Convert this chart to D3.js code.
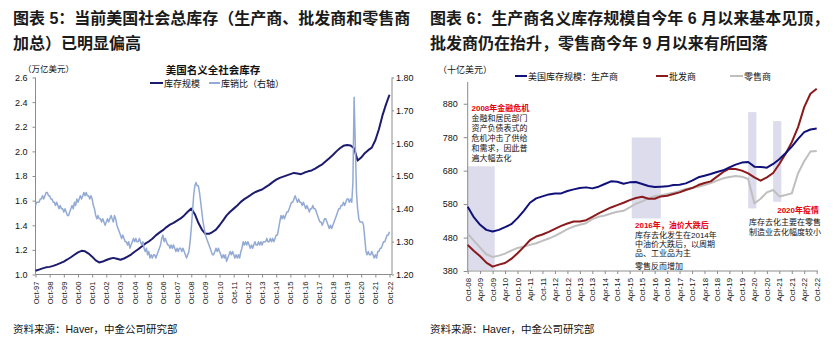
<!DOCTYPE html>
<html><head><meta charset="utf-8">
<script src="https://cdn.jsdelivr.net/npm/d3@7/dist/d3.min.js"></script>
<style>
body{margin:0;background:#fff;}
svg{display:block;font-family:"Liberation Sans","Noto Sans CJK SC",sans-serif;}
</style></head><body>
<svg id="c" width="835" height="345"></svg>
<script>
// ---------------- DATA ----------------
// Left chart: US total business inventories (trillion USD, quarterly from Oct-97) and inventory/sales ratio (monthly from Oct-97)
const leftStart = "1997-10";
const leftStock = [
1.030,1.040,1.050,1.058, 1.062,1.070,1.080,1.092, 1.105,1.122,1.140,1.160, 1.180,1.192,1.188,1.170,
1.145,1.115,1.098,1.105, 1.118,1.128,1.135,1.128, 1.120,1.130,1.145,1.162, 1.185,1.205,1.228,1.250,
1.268,1.290,1.318,1.340, 1.360,1.385,1.405,1.420, 1.438,1.455,1.480,1.510, 1.535,1.490,1.420,1.365,
1.330,1.330,1.345,1.365, 1.400,1.440,1.480,1.510, 1.535,1.560,1.590,1.612, 1.630,1.650,1.668,1.680,
1.690,1.710,1.728,1.750, 1.770,1.785,1.795,1.805, 1.815,1.825,1.820,1.815, 1.828,1.838,1.845,1.860,
1.878,1.895,1.920,1.945, 1.970,2.000,2.025,2.045, 2.052,2.048,2.025,1.925, 1.950,1.985,2.010,2.030,
2.090,2.180,2.290,2.380, 2.460];
const leftRatio = [
1.41,1.42,1.42,
1.42,1.43,1.43,1.44,1.43,1.44,1.45,1.45,1.44,1.44,1.43,1.43,
1.42,1.42,1.41,1.42,1.41,1.40,1.41,1.40,1.40,1.39,1.40,1.39,
1.38,1.38,1.39,1.40,1.41,1.40,1.42,1.41,1.43,1.42,1.43,1.44,
1.43,1.44,1.45,1.44,1.45,1.44,1.44,1.43,1.44,1.43,1.41,1.40,
1.38,1.37,1.38,1.37,1.37,1.36,1.37,1.36,1.35,1.36,1.37,1.36,
1.37,1.38,1.37,1.36,1.38,1.37,1.35,1.34,1.33,1.32,1.31,1.32,
1.31,1.30,1.30,1.29,1.30,1.28,1.29,1.30,1.31,1.30,1.31,1.30,
1.30,1.31,1.30,1.29,1.30,1.28,1.27,1.28,1.26,1.27,1.25,1.26,
1.25,1.26,1.26,1.25,1.26,1.27,1.28,1.29,1.31,1.32,1.30,1.31,
1.30,1.29,1.29,1.28,1.29,1.28,1.29,1.28,1.27,1.28,1.27,1.28,
1.28,1.27,1.28,1.27,1.26,1.25,1.26,1.27,1.30,1.34,1.39,1.44,
1.47,1.48,1.47,1.47,1.45,1.42,1.39,1.36,1.34,1.32,1.31,1.30,
1.29,1.28,1.27,1.26,1.26,1.27,1.28,1.27,1.28,1.27,1.26,1.25,
1.26,1.25,1.26,1.24,1.25,1.26,1.27,1.26,1.27,1.26,1.25,1.26,
1.25,1.26,1.25,1.27,1.28,1.30,1.29,1.30,1.29,1.30,1.29,1.28,
1.29,1.28,1.29,1.30,1.29,1.29,1.30,1.29,1.30,1.29,1.30,1.30,
1.30,1.31,1.30,1.30,1.31,1.30,1.31,1.30,1.31,1.32,1.32,1.34,
1.36,1.38,1.37,1.38,1.37,1.38,1.39,1.39,1.40,1.41,1.42,1.42,
1.43,1.44,1.43,1.42,1.43,1.42,1.42,1.41,1.42,1.41,1.40,1.41,
1.40,1.39,1.40,1.40,1.41,1.40,1.40,1.39,1.38,1.37,1.36,1.36,
1.35,1.36,1.37,1.37,1.36,1.35,1.34,1.35,1.34,1.35,1.36,1.37,
1.38,1.39,1.40,1.40,1.41,1.41,1.42,1.41,1.42,1.43,1.43,1.42,
1.43,1.42,1.48,1.74,1.60,1.45,1.40,1.37,1.36,1.36,1.36,1.35,
1.31,1.27,1.26,1.27,1.26,1.26,1.27,1.26,1.25,1.26,1.25,1.27,
1.27,1.28,1.28,1.29,1.30,1.30,1.31,1.32,1.32,1.33];
const leftYTicks = [1.0,1.2,1.4,1.6,1.8,2.0,2.2,2.4,2.6];
const leftY2Ticks = [1.20,1.30,1.40,1.50,1.60,1.70,1.80];
const leftXLabels = ["Oct-97","Oct-98","Oct-99","Oct-00","Oct-01","Oct-02","Oct-03","Oct-04","Oct-05","Oct-06","Oct-07","Oct-08","Oct-09","Oct-10","Oct-11","Oct-12","Oct-13","Oct-14","Oct-15","Oct-16","Oct-17","Oct-18","Oct-19","Oct-20","Oct-21","Oct-22"];

// Right chart: nominal inventories by sector (billion USD, quarterly from Oct-08)
const rightStart = "2008-10";
const manufacturers = [572,540,518,503, 498,503,511,520, 538,560,584,597, 603,609,612,612, 619,624,628,630,
 627,632,640,648, 647,641,645,646, 640,634,631,632, 633,637,638,642, 650,660,665,670, 676,681,690,698,
 704,706,692,691, 689,700,714,732, 752,775,795,803, 806];
const wholesalers = [458,440,424,405, 393,399,404,416, 433,452,472,483, 489,497,506,515, 522,528,528,532,
 542,552,561,570, 577,584,592,598, 602,596,596,603, 605,610,615,622, 628,637,643,648, 662,676,686,685,
 680,672,660,650, 660,673,700,730, 765,810,870,910, 925];
const retailers = [492,470,450,430, 422,426,432,441, 449,453,458,463, 470,477,485,495, 505,513,518,523,
 535,542,546,552, 557,560,570,581, 588,597,604,606, 610,614,619,625, 628,632,637,643, 650,657,661,664,
 662,655,582,596, 615,622,603,607, 612,672,708,737, 739];
const rightYTicks = [380,480,580,680,780,880];
const rightXLabels = ["Oct-08","Apr-09","Oct-09","Apr-10","Oct-10","Apr-11","Oct-11","Apr-12","Oct-12","Apr-13","Oct-13","Apr-14","Oct-14","Apr-15","Oct-15","Apr-16","Oct-16","Apr-17","Oct-17","Apr-18","Oct-18","Apr-19","Oct-19","Apr-20","Oct-20","Apr-21","Oct-21","Apr-22","Oct-22"];
const bandFrom = ["2008-10","2015-05","2020-01","2021-01"];
const bandTo   = ["2009-11","2016-07","2020-05","2021-05"];
const bandTop  = [693,779,855,828];
const bandBottom = [383,537,567,587];

// ---------------- DRAW ----------------
const svg = d3.select("#c");
const pm = d3.timeParse("%Y-%m");
const pl = d3.timeParse("%b-%y");
const CJK = '"Noto Sans CJK SC","Liberation Sans",sans-serif';
const NUM = '"Liberation Sans",Arial,sans-serif';
const MIX = '"Liberation Sans","Noto Sans CJK SC",sans-serif';

function txt(x,y,s,size,opt){
  opt = opt||{};
  return svg.append("text").attr("x",x).attr("y",y).text(s)
    .attr("font-size",size).attr("font-family",opt.ff||MIX)
    .attr("font-weight",opt.bold?"bold":"normal")
    .attr("fill",opt.fill||"#111")
    .attr("text-anchor",opt.anchor||"start");
}

// Titles
txt(13,24,"图表 5：当前美国社会总库存（生产商、批发商和零售商",16,{bold:true,fill:"#1a1a1a"});
txt(13,49,"加总）已明显偏高",16,{bold:true,fill:"#1a1a1a"});
txt(430,24,"图表 6：生产商名义库存规模自今年 6 月以来基本见顶，",16,{bold:true,fill:"#1a1a1a"});
txt(430,49,"批发商仍在抬升，零售商今年 9 月以来有所回落",16,{bold:true,fill:"#1a1a1a"});
txt(13,333,"资料来源：Haver，中金公司研究部",10.5,{});
txt(430,333,"资料来源：Haver，中金公司研究部",10.5,{});

function styleAxis(g){
  g.selectAll("path.domain").remove();
  g.selectAll(".tick line").attr("stroke","#8c8c8c");
  g.selectAll(".tick text").attr("font-family",NUM).attr("fill","#111");
}

// ---------- LEFT ----------
const L = {x0:35.5, x1:392, xe:389.5, y0:274.5, y1:77.5};
const xL = d3.scaleTime().domain([pm("1997-10"), pm("2022-10")]).range([L.x0, L.xe]);
const yL = d3.scaleLinear().domain([1.0,2.6]).range([L.y0, L.y1]);
const yL2 = d3.scaleLinear().domain([1.2,1.8]).range([L.y0, L.y1]);

svg.append("line").attr("x1",L.x0).attr("x2",L.x0).attr("y1",L.y1).attr("y2",L.y0).attr("stroke","#8c8c8c");
svg.append("line").attr("x1",L.x1).attr("x2",L.x1).attr("y1",L.y1).attr("y2",L.y0).attr("stroke","#8c8c8c");
svg.append("line").attr("x1",L.x0).attr("x2",L.x1).attr("y1",L.y0).attr("y2",L.y0).attr("stroke","#8c8c8c");

svg.append("g").attr("transform",`translate(${L.x0},0)`)
  .call(d3.axisLeft(yL).tickValues(leftYTicks).tickFormat(d3.format(".1f")).tickSize(3).tickPadding(5))
  .call(styleAxis).selectAll("text").attr("font-size",9);
svg.append("g").attr("transform",`translate(${L.x1},0)`)
  .call(d3.axisRight(yL2).tickValues(leftY2Ticks).tickFormat(d3.format(".2f")).tickSize(2).tickPadding(2))
  .call(styleAxis).selectAll("text").attr("font-size",9);
const gxl = svg.append("g").attr("transform",`translate(0,${L.y0})`)
  .call(d3.axisBottom(xL).tickValues(leftXLabels.map(pl)).tickFormat((d,i)=>leftXLabels[i]).tickSize(3))
  .call(styleAxis);
gxl.selectAll(".tick text").attr("font-size",7.6).attr("transform","rotate(-90)")
  .attr("text-anchor","end").attr("x",-7).attr("y",0).attr("dy","0.33em");

const lStock = leftStock.map((v,i)=>({d:d3.timeMonth.offset(pm(leftStart),3*i),v}));
const lRatio = leftRatio.map((v,i)=>({d:d3.timeMonth.offset(pm(leftStart),i),v}));
svg.append("path").datum(lStock).attr("fill","none").attr("stroke","#1d1b6e").attr("stroke-width",2)
  .attr("stroke-linejoin","round").attr("d",d3.line().x(p=>xL(p.d)).y(p=>yL(p.v)));
svg.append("path").datum(lRatio).attr("fill","none").attr("stroke","#93aad4").attr("stroke-width",1.5)
  .attr("stroke-linejoin","round").attr("d",d3.line().x(p=>xL(p.d)).y(p=>yL2(p.v)));

txt(23,71.5,"（万亿美元）",8.5,{ff:CJK});
txt(213,74,"美国名义全社会库存",10.5,{bold:true,anchor:"middle",ff:CJK});
svg.append("line").attr("x1",150).attr("x2",163).attr("y1",83).attr("y2",83).attr("stroke","#1d1b6e").attr("stroke-width",2);
txt(164,86.5,"库存规模",9,{ff:CJK});
svg.append("line").attr("x1",209).attr("x2",220).attr("y1",83).attr("y2",83).attr("stroke","#93aad4").attr("stroke-width",2);
txt(221,86.5,"库销比（右轴）",9,{ff:CJK});

// ---------- RIGHT ----------
const R = {x0:467.7, x1:817, y0:271, y1:82};
const xR = d3.scaleTime().domain([pm("2008-10"), pm("2022-10")]).range([R.x0, 816.7]);
const yR = d3.scaleLinear().domain([380,945]).range([R.y0, R.y1]);

// shaded periods
svg.append("g").selectAll("rect").data(bandFrom).join("rect")
  .attr("x",(d,i)=>xR(pm(d)))
  .attr("width",(d,i)=>xR(pm(bandTo[i]))-xR(pm(d)))
  .attr("y",(d,i)=>yR(bandTop[i]))
  .attr("height",(d,i)=>yR(bandBottom[i])-yR(bandTop[i]))
  .attr("fill","#dcdcec");

svg.append("line").attr("x1",R.x0).attr("x2",R.x0).attr("y1",R.y1).attr("y2",R.y0).attr("stroke","#8c8c8c");
svg.append("line").attr("x1",R.x0).attr("x2",R.x1+1).attr("y1",R.y0).attr("y2",R.y0).attr("stroke","#8c8c8c");
svg.append("g").attr("transform",`translate(${R.x0},0)`)
  .call(d3.axisLeft(yR).tickValues(rightYTicks).tickFormat(d3.format("d")).tickSize(4).tickPadding(6))
  .call(styleAxis).selectAll("text").attr("font-size",9);
const gxr = svg.append("g").attr("transform",`translate(0,${R.y0})`)
  .call(d3.axisBottom(xR).tickValues(rightXLabels.map(pl)).tickFormat((d,i)=>rightXLabels[i]).tickSize(3))
  .call(styleAxis);
gxr.selectAll(".tick text").attr("font-size",7.8).attr("transform","rotate(-90)")
  .attr("text-anchor","end").attr("x",-7).attr("y",0).attr("dy","0.33em");

const lineR = d3.line().x(p=>xR(p.d)).y(p=>yR(p.v));
const toPts = arr => arr.map((v,i)=>({d:d3.timeMonth.offset(pm(rightStart),3*i),v}));
[[retailers,"#bfbfbf"],[wholesalers,"#8a1a1c"],[manufacturers,"#10107a"]].forEach(([arr,c])=>{
  svg.append("path").datum(toPts(arr)).attr("fill","none").attr("stroke",c).attr("stroke-width",2)
    .attr("stroke-linejoin","round").attr("d",lineR);
});

txt(438,72.5,"（十亿美元）",9,{ff:CJK});
svg.append("line").attr("x1",515).attr("x2",527).attr("y1",76).attr("y2",76).attr("stroke","#10107a").attr("stroke-width",2);
txt(528,79.5,"美国库存规模：生产商",9,{ff:CJK});
svg.append("line").attr("x1",656).attr("x2",668).attr("y1",76).attr("y2",76).attr("stroke","#8a1a1c").attr("stroke-width",2);
txt(669,79.5,"批发商",9,{ff:CJK});
svg.append("line").attr("x1",730).attr("x2",743).attr("y1",76).attr("y2",76).attr("stroke","#bfbfbf").attr("stroke-width",2);
txt(744,79.5,"零售商",9,{ff:CJK});

// annotations
const RED = "#e8000b";
txt(471.5,110.7,"2008年金融危机",8,{bold:true,fill:RED});
["金融和居民部门","资产负债表式的","危机冲击了供给","和需求，因此普","遍大幅去化"].forEach((s,i)=>
  txt(471.5,120.5+i*10,s,8,{}));
txt(635,228,"2016年，油价大跌后",8,{bold:true,fill:RED});
["库存去化发生在2014年","中油价大跌后，以周期","品、工业品为主"].forEach((s,i)=>txt(635,237.5+i*9.4,s,8,{}));
txt(635,269,"零售反而增加",8,{});
txt(819,213,"2020年疫情",8,{bold:true,fill:RED,anchor:"end"});
txt(749,224.7,"库存去化主要在零售",8,{});
txt(749,234.7,"制造业去化幅度较小",8,{});
</script>
</body></html>
